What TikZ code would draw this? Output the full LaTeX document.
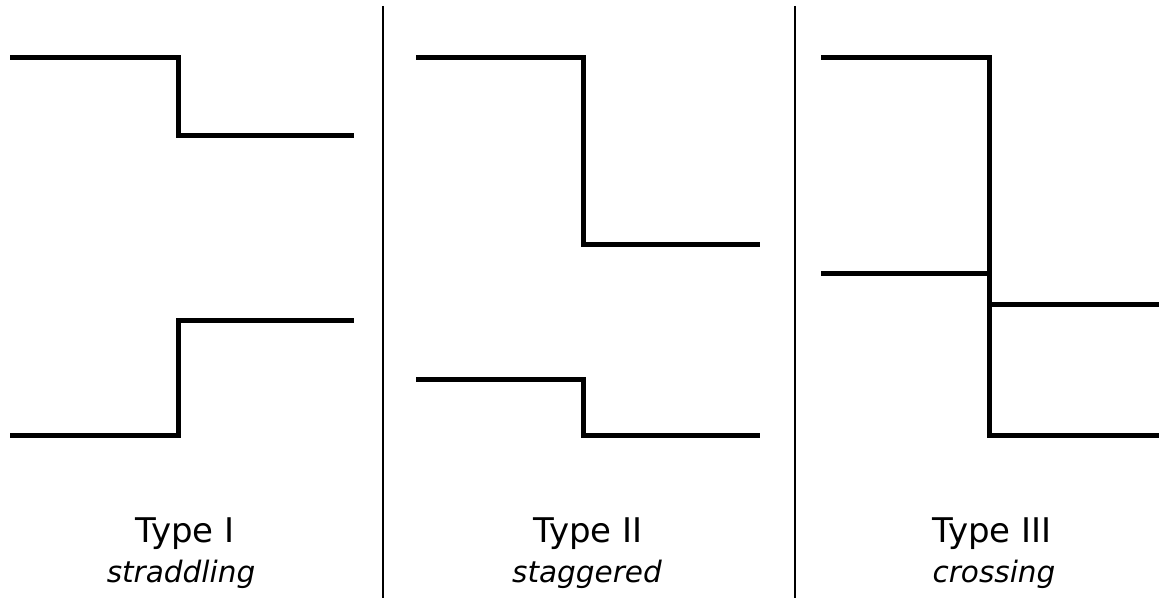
\documentclass[tikz,border=0pt]{standalone}
\usepackage{fontspec}
\setmainfont{DejaVu Sans}
\begin{document}
\begin{tikzpicture}[x=1pt,y=-1pt,
  band/.style={line width=5pt,line cap=butt,line join=miter},
  sep/.style={line width=1.8pt},
  ttl/.style={font=\fontsize{34}{37}\selectfont,anchor=base,inner sep=0pt},
  sub/.style={font=\fontsize{29.5}{33}\selectfont\itshape,anchor=base,inner sep=0pt}]
\useasboundingbox (0,0) rectangle (1159,602);
% separators
\coordinate (s1t) at (383,6); \coordinate (s1b) at (383,598);
\coordinate (s2t) at (795,6); \coordinate (s2b) at (795,598);
\draw[sep] (s1t) -- (s1b);
\draw[sep] (s2t) -- (s2b);
% Type I
\draw[band] (10,58) -- (178,58) -- (178,135.5) -- (354,135.5);
\draw[band] (10,435) -- (178,435) -- (178,320) -- (354,320);
% Type II
\draw[band] (416,58) -- (583,58) -- (583,244) -- (760,244);
\draw[band] (416,379) -- (583,379) -- (583,435) -- (760,435);
% Type III
\draw[band] (821,58) -- (989,58) -- (989,435) -- (1159,435);
\draw[band] (821,273.5) -- (989,273.5) -- (989,304) -- (1159,304);
% labels
\node[ttl] (t1) at (185,542) {Type I};
\node[sub] (u1) at (181,582) {straddling};
\node[ttl] (t2) at (588,542) {Type II};
\node[sub] (u2) at (587,582) {staggered};
\node[ttl] (t3) at (992,542) {Type III};
\node[sub] (u3) at (994,582) {crossing};
\end{tikzpicture}
\end{document}
